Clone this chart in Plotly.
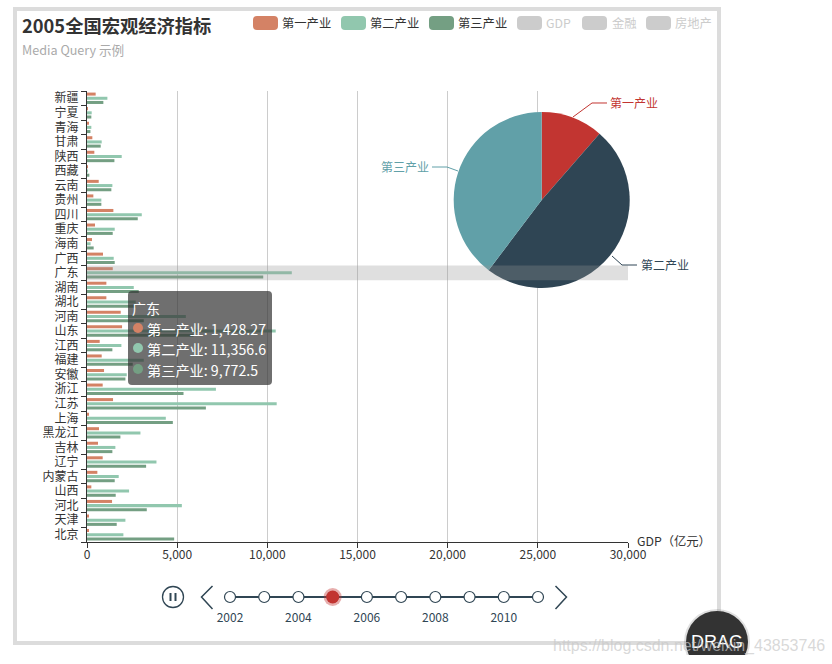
import re
import plotly.graph_objects as go

W, H = 832, 664
FONT = "Noto Sans CJK SC"

provinces = ["北京","天津","河北","山西","内蒙古","辽宁","吉林","黑龙江","上海","江苏","浙江","安徽","福建","江西","山东","河南","湖北","湖南","广东","广西","海南","重庆","四川","贵州","云南","西藏","陕西","甘肃","青海","宁夏","新疆"]
primary = [74,93,1389,240,574,870,611,667,74,1444,870,945,815,704,1945,1870,1074,1074,1428.27,889,278,444,1463,352,650,30,407,296,60,48,480]
secondary = [2018,2130,5259,2333,1759,3852,1574,2963,4370,10519,7149,2204,3148,1907,10464,5482,2700,2593,11356.6,1481,200,1537,3037,796,1407,40,1925,815,240,260,1130]
tertiary = [4833,1648,3315,1592,1537,3278,1407,1852,4760,6593,5352,2130,2537,1407,5908,3148,2700,2870,9772.5,1537,370,1426,2815,796,1350,130,1520,760,190,240,907]

series_names = ["第一产业","第二产业","第三产业"]
bar_colors = ["#d48265","#91c7ae","#749f83"]
pie_values = [11.4,48.9,39.7]
pie_colors = ["#c23531","#2f4554","#61a0a8"]
years = [2002,2003,2004,2005,2006,2007,2008,2009,2010,2011]
year_labels = ["2002","","2004","","2006","","2008","","2010",""]
current_year = 2005
tooltip_title = "广东"
tooltip_rows = ["第一产业: 1,428.27","第二产业: 11,356.6","第三产业: 9,772.5"]
legend_names = ["第一产业","第二产业","第三产业","GDP","金融","房地产"]
legend_colors = ["#d48265","#91c7ae","#749f83","#cccccc","#cccccc","#cccccc"]
legend_text_colors = ["#333333","#333333","#333333","#cccccc","#cccccc","#cccccc"]

px = lambda x: x / W
py = lambda y: 1 - y / H

fig = go.Figure()
# plotly stacks grouped horizontal bars bottom-up, so the last series goes in first
for name, vals, c in reversed(list(zip(series_names, [primary, secondary, tertiary], bar_colors))):
    fig.add_trace(go.Bar(y=provinces, x=vals, name=name, orientation="h", marker=dict(color=c, line_width=0),
                         xaxis="x", yaxis="y", showlegend=False))

fig.add_trace(go.Pie(labels=series_names, values=pie_values, sort=False, direction="clockwise", rotation=0,
                     marker=dict(colors=pie_colors, line_width=0), textinfo="none", showlegend=False,
                     domain=dict(x=[px(453.7), px(629.7)], y=[py(288), py(112)])))

# timeline
fig.add_trace(go.Scatter(x=years, y=[0]*len(years), mode="lines+markers", xaxis="x2", yaxis="y2",
                         line=dict(color="#304654", width=2), cliponaxis=False, showlegend=False,
                         marker=dict(size=11, color="white", line=dict(color="#304654", width=1.2))))
fig.add_trace(go.Scatter(x=years, y=[-0.71]*len(years), mode="text", xaxis="x2", yaxis="y2", cliponaxis=False, showlegend=False,
                         text=year_labels, textposition="middle center",
                         textfont=dict(size=12, color="#304654", family=FONT)))
fig.add_trace(go.Scatter(x=[current_year], y=[0], mode="markers", xaxis="x2", yaxis="y2", cliponaxis=False, showlegend=False,
                         marker=dict(size=18, color="rgba(194,53,49,0.4)", line_width=0)))
fig.add_trace(go.Scatter(x=[current_year], y=[0], mode="markers", xaxis="x2", yaxis="y2", cliponaxis=False, showlegend=False,
                         marker=dict(size=13, color="#c23531", line_width=0)))

shapes = []
annots = []

def rect(x0, y0, x1, y1, fill=None, line=None, lw=0, layer="above"):
    shapes.append(dict(type="rect", xref="paper", yref="paper", x0=px(x0), x1=px(x1), y0=py(y0), y1=py(y1),
                       fillcolor=fill or "rgba(0,0,0,0)", line=dict(color=line or "rgba(0,0,0,0)", width=lw), layer=layer))

def path(points, color, lw=1, close=False, fill=None):
    d = "M " + " L ".join(f"{px(x):.5f},{py(y):.5f}" for x, y in points) + (" Z" if close else "")
    shapes.append(dict(type="path", xref="paper", yref="paper", path=d, line=dict(color=color, width=lw),
                       fillcolor=fill or "rgba(0,0,0,0)", layer="above"))

def circle(cx, cy, r, fill=None, line=None, lw=0):
    shapes.append(dict(type="circle", xref="paper", yref="paper", x0=px(cx-r), x1=px(cx+r), y0=py(cy+r), y1=py(cy-r),
                       fillcolor=fill or "rgba(0,0,0,0)", line=dict(color=line or "rgba(0,0,0,0)", width=lw), layer="above"))

def rrect(x0, y0, x1, y1, r, fill):
    d = (f"M {x0+r},{y0} L {x1-r},{y0} Q {x1},{y0} {x1},{y0+r} L {x1},{y1-r} Q {x1},{y1} {x1-r},{y1} "
         f"L {x0+r},{y1} Q {x0},{y1} {x0},{y1-r} L {x0},{y0+r} Q {x0},{y0} {x0+r},{y0} Z")
    def conv(m):
        return f"{px(float(m.group(1))):.5f},{py(float(m.group(2))):.5f}"
    d = re.sub(r"(-?[\d.]+),(-?[\d.]+)", conv, d)
    shapes.append(dict(type="path", xref="paper", yref="paper", path=d, fillcolor=fill, line_width=0, layer="above"))

def text(x, y, s, size=12, color="#333333", anchor="left", bold=False, family=FONT):
    annots.append(dict(xref="paper", yref="paper", x=px(x), y=py(y), text=f"<b>{s}</b>" if bold else s, showarrow=False,
                       xanchor=anchor, yanchor="middle", font=dict(size=size, color=color, family=family), borderpad=0, borderwidth=0))

# outer frame
rect(15, 9, 719, 643, line="#dcdcdc", lw=4)

# title
text(22, 25, "2005全国宏观经济指标", size=18.3, color="#333333", bold=True)
text(22, 49.5, "Media Query 示例", size=12.6, color="#aaaaaa")

# legend
leg_chip_x = [253, 341, 429, 517, 582, 646]
leg_text_x = [282, 370, 458, 546, 612, 675]
for cx, tx, n, c, tc in zip(leg_chip_x, leg_text_x, legend_names, legend_colors, legend_text_colors):
    rrect(cx, 16, cx+25, 30, 4, c)
    text(tx, 23, n, size=12.3, color=tc)

# hovered-category shadow band, on the category axis
shapes.append(dict(type="rect", xref="x", yref="y", x0=0, x1=30000,
                   y0=provinces.index(tooltip_title)-0.5, y1=provinces.index(tooltip_title)+0.5,
                   fillcolor="rgba(150,150,150,0.3)", line_width=0, layer="above"))

# pie labels
path([(573,117),(592,103),(607,103)], pie_colors[0])
text(610, 102.5, series_names[0], color=pie_colors[0])
path([(612,256),(622,265),(637,265)], pie_colors[1])
text(641, 264.5, series_names[1], color=pie_colors[1])
path([(458,171),(447,167),(432,167)], pie_colors[2])
text(428.5, 166.5, series_names[2], color=pie_colors[2], anchor="right")

# axis name
text(637, 541, "GDP（亿元）", size=12.3, color="#333333")

# tooltip
rrect(128, 291, 272, 385, 4, "rgba(50,50,50,0.7)")
text(132, 308, tooltip_title, size=14, color="white")
for y, s, c in zip([329, 349, 370], tooltip_rows, bar_colors):
    circle(138, y-1, 5, fill=c)
    text(147, y, s, size=14.2, color="white")

# timeline controls
circle(173, 597, 10.5, line="#304654", lw=1.3)
path([(170.5,593),(170.5,601)], "#304654", lw=2)
path([(175.5,593),(175.5,601)], "#304654", lw=2)
path([(212.5,586),(201.5,597),(212.5,609)], "#304654", lw=1.5)
path([(555.5,586),(566.5,597),(555.5,609)], "#304654", lw=1.5)

# drag handle + watermark
circle(717, 642, 33, fill="rgba(50,50,50,0.15)")
circle(717, 642, 31, fill="#333333")
rect(680, 655, 760, 664, fill="white")
text(717, 642, "DRAG", size=18, color="white", anchor="center", family="Liberation Sans")
text(553, 646, "https://blog.csdn.net/weixin_43853746", size=16, color="rgba(200,200,200,0.7)", family="Liberation Sans")

fig.update_layout(
    width=W, height=H, margin=dict(l=0, r=0, t=0, b=0, autoexpand=False), paper_bgcolor="white", plot_bgcolor="white",
    barmode="group", bargap=0.136, bargroupgap=0.28, font=dict(family=FONT, size=12, color="#333333"),
    xaxis=dict(domain=[px(87), px(628)], range=[0, 30000], dtick=5000, tickformat=",", ticks="outside", ticklen=5,
               ticklabelstandoff=-3,
               tickcolor="#333333", showline=True, linecolor="#333333", linewidth=1, showgrid=True, gridcolor="#cccccc",
               gridwidth=1, zeroline=False, anchor="y", tickfont=dict(size=12, color="#333333")),
    yaxis=dict(domain=[py(542), py(91)], type="category", categoryorder="array", categoryarray=provinces,
               range=[-0.5, 30.5], tickson="boundaries", ticks="outside", ticklen=5, tickcolor="#333333",
               ticklabelstandoff=5,
               showline=True, linecolor="#333333", linewidth=1, showgrid=False, zeroline=False, anchor="x", dtick=1,
               tickfont=dict(size=12, color="#333333")),
    xaxis2=dict(domain=[px(212.9), px(555.1)], range=[2001.5, 2011.5], visible=False, anchor="y2", fixedrange=True),
    yaxis2=dict(domain=[py(628), py(566)], range=[-1, 1], visible=False, anchor="x2", fixedrange=True),
    shapes=shapes, annotations=annots,
)

fig.write_html("out.html", config=dict(displayModeBar=False),
               post_script="document.body.style.margin='0';document.body.style.overflow='hidden';")
